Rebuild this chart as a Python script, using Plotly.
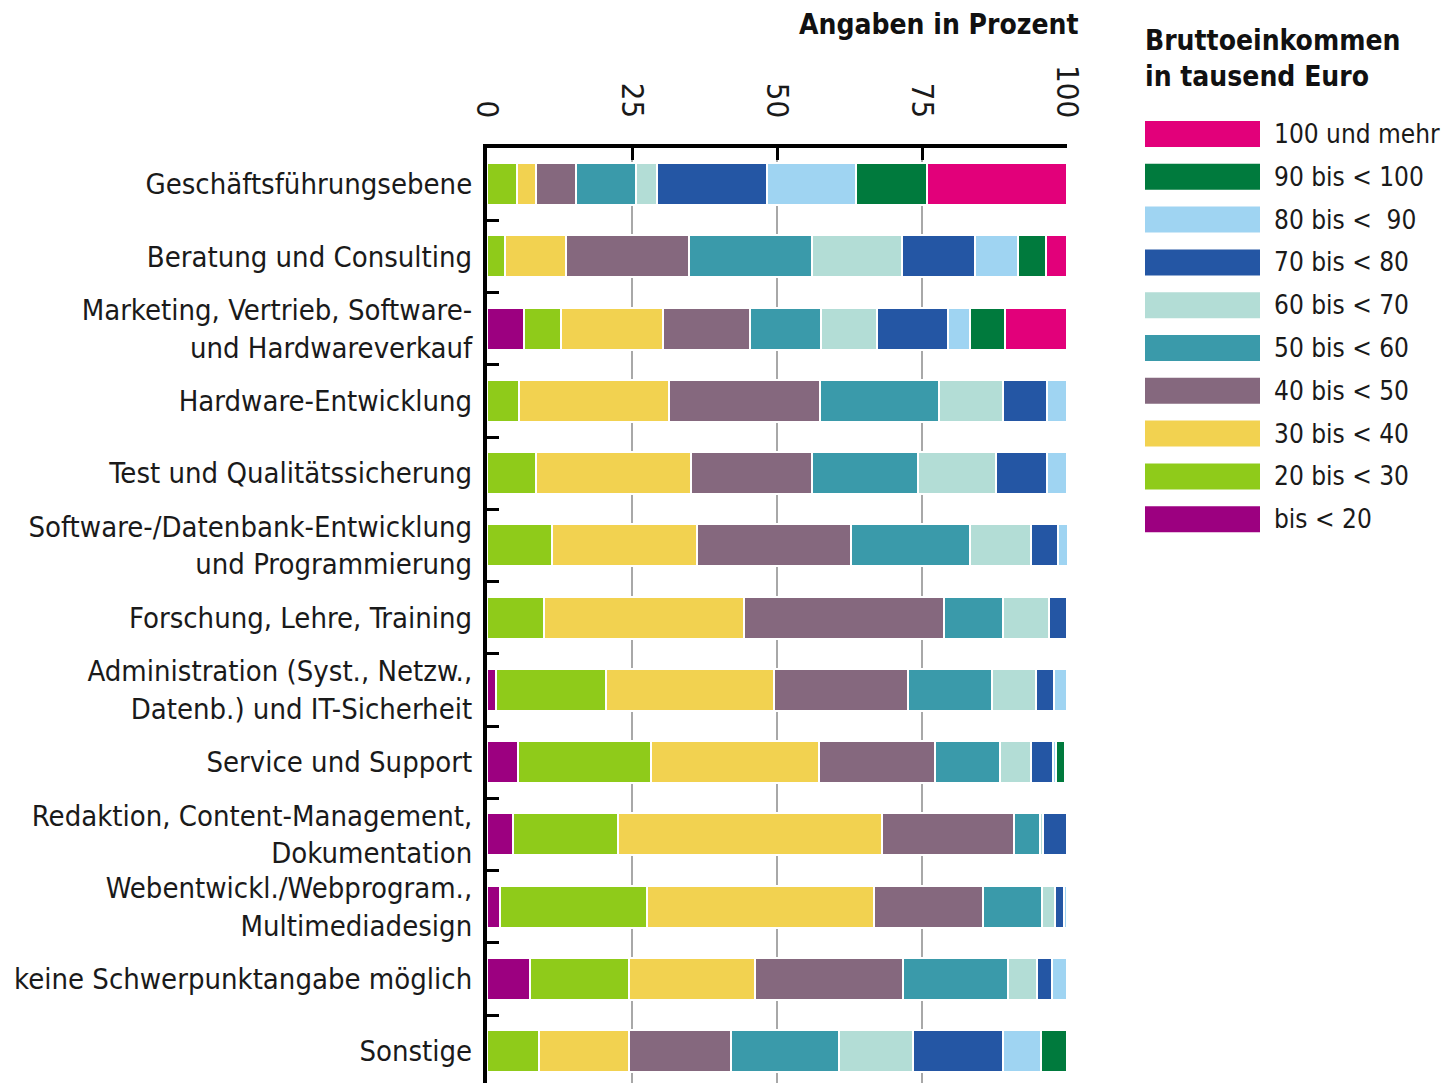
import plotly.graph_objects as go

# ---------------- data ----------------
categories = [
    "Geschäftsführungsebene",
    "Beratung und Consulting",
    "Marketing, Vertrieb, Software-<br>und Hardwareverkauf",
    "Hardware-Entwicklung",
    "Test und Qualitätssicherung",
    "Software-/Datenbank-Entwicklung<br>und Programmierung",
    "Forschung, Lehre, Training",
    "Administration (Syst., Netzw.,<br>Datenb.) und IT-Sicherheit",
    "Service und Support",
    "Redaktion, Content-Management,<br>Dokumentation",
    "Webentwickl./Webprogram.,<br>Multimediadesign",
    "keine Schwerpunktangabe möglich",
    "Sonstige",
]

series_names = [
    "bis < 20",
    "20 bis < 30",
    "30 bis < 40",
    "40 bis < 50",
    "50 bis < 60",
    "60 bis < 70",
    "70 bis < 80",
    "80 bis <  90",
    "90 bis < 100",
    "100 und mehr",
]

bis20   = [0,    0,    6.4,  0,    0,    0,    0,    1.5,  5.3,  4.5,  2.3,  7.4,  0]
b20_30  = [5.1,  3.1,  6.3,  5.5,  8.4,  11.2, 9.9,  19.0, 22.9, 18.1, 25.2, 17.0, 8.9]
b30_40  = [3.3,  10.5, 17.6, 25.9, 26.8, 25.0, 34.4, 29.0, 29.0, 45.5, 39.3, 21.8, 15.6]
b40_50  = [6.9,  21.3, 15.1, 26.0, 20.8, 26.6, 34.5, 23.1, 20.0, 22.8, 18.8, 25.5, 17.6]
b50_60  = [10.4, 21.1, 12.2, 20.5, 18.3, 20.5, 10.1, 14.4, 11.2, 4.5,  10.1, 18.2, 18.6]
b60_70  = [3.6,  15.5, 9.6,  11.0, 13.5, 10.5, 8.0,  7.6,  5.4,  0.4,  2.3,  5.0,  12.8]
b70_80  = [18.9, 12.6, 12.3, 7.7,  8.8,  4.7,  3.1,  3.2,  3.8,  4.2,  1.5,  2.5,  15.5]
b80_90  = [15.5, 7.5,  3.8,  3.4,  3.4,  1.6,  0,    2.2,  0.5,  0,    0.5,  2.6,  6.5]
b90_100 = [12.2, 4.8,  6.0,  0,    0,    0,    0,    0,    1.5,  0,    0,    0,    4.5]
b100    = [24.1, 3.6,  10.7, 0,    0,    0,    0,    0,    0,    0,    0,    0,    0]

series_values = [bis20, b20_30, b30_40, b40_50, b50_60, b60_70, b70_80, b80_90, b90_100, b100]

x_ticks = [0, 25, 50, 75, 100]

colors = ["#9C0080", "#8FCB1A", "#F2D250", "#85687E", "#3A9AAA",
          "#B3DDD6", "#2456A4", "#9FD4F2", "#007A3D", "#E2007A"]

# ---------------- figure ----------------
W, H = 1451, 1083
L, R, T, B = 487, 1067, 148, 1083
FONT = "DejaVu Sans Condensed, Liberation Sans Narrow, Roboto, sans-serif"

fig = go.Figure()
for name, vals, col in zip(series_names, series_values, colors):
    fig.add_trace(go.Bar(
        y=categories,
        x=[v if v else None for v in vals],
        name=name,
        orientation="h",
        marker=dict(color=col, line=dict(color="white", width=2)),
        showlegend=False,
        hovertemplate="%{y}<br>" + name + ": %{x}%<extra></extra>",
    ))

fig.update_layout(
    width=W, height=H,
    margin=dict(l=L, r=W - R, t=T, b=H - B, pad=0, autoexpand=False),
    barmode="stack",
    bargap=0.42,
    plot_bgcolor="white",
    paper_bgcolor="white",
    font=dict(family=FONT, color="#1a1a1a", size=29),
)

fig.update_xaxes(
    side="top",
    range=[0, 100],
    tickvals=x_ticks,
    ticktext=[str(t) for t in x_ticks],
    tickangle=90,
    tickfont=dict(size=31, family=FONT, color="#1a1a1a"),
    ticks="inside", ticklen=12, tickwidth=3, tickcolor="black",
    ticklabelstandoff=15,
    showline=True, linecolor="black", linewidth=4,
    showgrid=True, gridcolor="#a8a8a8", gridwidth=2,
    zeroline=False,
    automargin=False,
    fixedrange=True,
)

fig.update_yaxes(
    categoryorder="array",
    categoryarray=categories,
    range=[12.44, -0.5],
    tickfont=dict(size=29, family=FONT, color="#1a1a1a"),
    ticks="inside", tickson="boundaries", ticklen=12, tickwidth=3, tickcolor="black",
    ticklabelstandoff=5,
    showline=True, linecolor="black", linewidth=4,
    showgrid=False,
    zeroline=False,
    automargin=False,
    fixedrange=True,
)

# helper: pixel -> paper coordinates
def px(xp):
    return (xp - L) / (R - L)

def py(yp):
    return (B - yp) / (B - T)

annotations = []
# axis title
annotations.append(dict(
    text="<b>Angaben in Prozent</b>", xref="paper", yref="paper",
    x=px(1081), y=py(6), xanchor="right", yanchor="top", showarrow=False,
    font=dict(size=28, family=FONT, color="#111"),
))
# legend title
annotations.append(dict(
    text="<b>Bruttoeinkommen</b><br><b>in tausend Euro</b>", xref="paper", yref="paper",
    x=px(1143), y=py(22), xanchor="left", yanchor="top", showarrow=False, align="left",
    font=dict(size=28, family=FONT, color="#111"),
))

shapes = []
legend_order = list(range(len(series_names)))[::-1]
y0 = 134
step = 42.8
for i, idx in enumerate(legend_order):
    yc = y0 + i * step
    shapes.append(dict(
        type="rect", xref="paper", yref="paper",
        x0=px(1145), x1=px(1260), y0=py(yc + 13), y1=py(yc - 13),
        fillcolor=colors[idx], line=dict(width=0),
    ))
    annotations.append(dict(
        text=series_names[idx].replace("<", "&lt;"), xref="paper", yref="paper",
        x=px(1272), y=py(yc), xanchor="left", yanchor="middle", showarrow=False,
        font=dict(size=26, family=FONT, color="#1a1a1a"),
    ))

fig.update_layout(annotations=annotations, shapes=shapes)

fig.write_html("out.html", config={"displayModeBar": False},
               post_script="document.body.style.margin='0px';")
